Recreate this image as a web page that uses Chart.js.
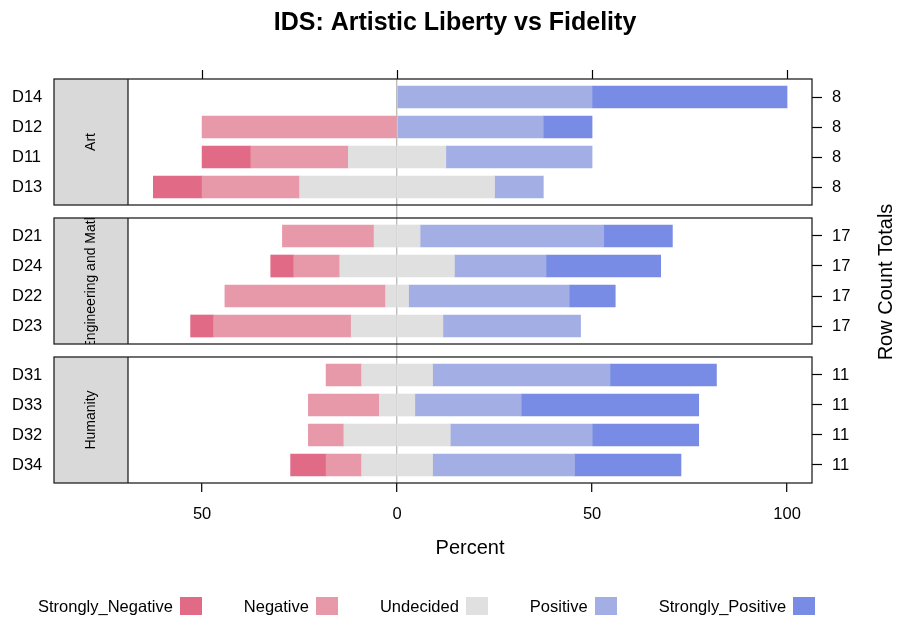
<!DOCTYPE html>
<html>
<head>
<meta charset="utf-8">
<script src="https://cdn.jsdelivr.net/npm/chart.js@4"></script>
<style>
  body { margin: 0; background: #fff; font-family: "Liberation Sans", Arial, sans-serif; }
  #wrap { position: relative; width: 898px; height: 620px; }
  #legend { position: absolute; left: 38px; top: 597px; display: flex; gap: 42px; font-size: 16.5px; color: #000; }
  .item { display: flex; align-items: center; height: 18px; }
  .sw { width: 22px; height: 18px; margin-left: 7px; }
</style>
</head>
<body>
<div id="wrap">
  <canvas id="chart" width="898" height="620"></canvas>
  <div id="legend"></div>
</div>
<script>
// panels (top to bottom) and their row counts
const panels = ["Art", "Engineering and Math", "Humanity"];
const panelTotals = [8, 17, 11];

// rows, top to bottom inside each panel
const rowLabels = ["D14", "D12", "D11", "D13", "D21", "D24", "D22", "D23", "D31", "D33", "D32", "D34"];
const rowPanel = [0, 0, 0, 0, 1, 1, 1, 1, 2, 2, 2, 2];

// percent of answers per row
const stronglyNegative = [0, 0, 12.5, 12.5, 0, 5.9, 0, 5.9, 0, 0, 0, 9.1];
const negative = [0, 50, 25, 25, 23.5, 11.8, 41.2, 35.3, 9.1, 18.2, 9.1, 9.1];
const undecided = [0, 0, 25, 50, 11.8, 29.4, 5.9, 23.5, 18.2, 9.1, 27.3, 18.2];
const positive = [50, 37.5, 37.5, 12.5, 47.1, 23.5, 41.2, 35.3, 45.5, 27.3, 36.4, 36.4];
const stronglyPositive = [50, 12.5, 0, 0, 17.6, 29.4, 11.8, 0, 27.3, 45.5, 27.3, 27.3];

const levels = ["Strongly_Negative", "Negative", "Undecided", "Positive", "Strongly_Positive"];
const colors = ["#E16A86", "#E899A9", "#E0E0E0", "#A2AEE4", "#788CE6"];
const xTicks = [-50, 0, 50, 100];

const FONT = "'Liberation Sans', Arial, sans-serif";
const PANEL = 4.2;   // rows span + 0.6 padding each side
const GAP = 0.433;   // space between panels

// y position of every row
const rowPos = [];
const seen = {};
rowLabels.forEach((_, i) => {
  const p = rowPanel[i];
  seen[p] = (seen[p] || 0);
  rowPos.push(p * (PANEL + GAP) + 0.6 + seen[p]);
  seen[p]++;
});
const yMax = panels.length * PANEL + (panels.length - 1) * GAP;

function pts(vals, sign) {
  return vals.map((v, i) => ({ y: rowPos[i], x: v === 0 ? null : sign * v }));
}

const datasets = [
  { label: "Undecided", data: pts(undecided.map(v => v / 2), -1), backgroundColor: colors[2] },
  { label: "Negative", data: pts(negative, -1), backgroundColor: colors[1] },
  { label: "Strongly_Negative", data: pts(stronglyNegative, -1), backgroundColor: colors[0] },
  { label: "Undecided", data: pts(undecided.map(v => v / 2), 1), backgroundColor: colors[2] },
  { label: "Positive", data: pts(positive, 1), backgroundColor: colors[3] },
  { label: "Strongly_Positive", data: pts(stronglyPositive, 1), backgroundColor: colors[4] }
];

const panelBoxes = {
  id: "panelBoxes",
  afterDraw(chart) {
    const { ctx, chartArea: area, scales } = chart;
    const y = scales.y;
    ctx.save();
    panels.forEach((name, p) => {
      const top = y.getPixelForValue(p * (PANEL + GAP));
      const bot = y.getPixelForValue(p * (PANEL + GAP) + PANEL);
      const stripLeft = 54;
      ctx.fillStyle = "#d9d9d9";
      ctx.fillRect(stripLeft, top, area.left - stripLeft, bot - top);

      ctx.save();
      ctx.beginPath();
      ctx.rect(stripLeft, top, area.left - stripLeft, bot - top);
      ctx.clip();
      ctx.translate((stripLeft + area.left) / 2, (top + bot) / 2);
      ctx.rotate(-Math.PI / 2);
      ctx.fillStyle = "#000";
      ctx.font = "14px " + FONT;
      ctx.textAlign = "center";
      ctx.textBaseline = "middle";
      ctx.fillText(name, 0, 0);
      ctx.restore();

      ctx.strokeStyle = "#222";
      ctx.lineWidth = 1.3;
      ctx.strokeRect(stripLeft, top, area.right - stripLeft, bot - top);
      ctx.beginPath();
      ctx.moveTo(area.left, top);
      ctx.lineTo(area.left, bot);
      ctx.stroke();
    });

    ctx.translate(886, 282);
    ctx.rotate(-Math.PI / 2);
    ctx.fillStyle = "#000";
    ctx.font = "20px " + FONT;
    ctx.textAlign = "center";
    ctx.textBaseline = "middle";
    ctx.fillText("Row Count Totals", 0, 0);
    ctx.restore();
  }
};

Chart.defaults.font.family = FONT;
Chart.defaults.color = "#000";

new Chart(document.getElementById("chart"), {
  type: "bar",
  data: { datasets },
  options: {
    responsive: false,
    animation: false,
    indexAxis: "y",
    devicePixelRatio: 1,
    layout: { padding: { top: 0, bottom: 56, left: 12, right: 0 } },
    datasets: { bar: { barThickness: 22, borderWidth: 0 } },
    plugins: {
      legend: { display: false },
      tooltip: { enabled: false },
      title: {
        display: true,
        text: "IDS: Artistic Liberty vs Fidelity",
        font: { size: 25, weight: "bold" },
        color: "#000",
        padding: { top: 8, bottom: 32 }
      }
    },
    scales: {
      x: {
        type: "linear",
        stacked: true,
        min: -69,
        max: 106.4,
        afterBuildTicks: s => { s.ticks = xTicks.map(v => ({ value: v })); },
        afterFit: s => { s.height = 81; },
        border: { display: false },
        grid: {
          drawOnChartArea: true,
          color: c => (c.tick && c.tick.value === 0 ? "#bdbdbd" : "transparent"),
          lineWidth: 1.4,
          drawTicks: true,
          tickLength: 9,
          tickColor: "#000",
          tickWidth: 1.2
        },
        ticks: { font: { size: 16.5 }, padding: 13, callback: v => String(Math.abs(v)) },
        title: { display: true, text: "Percent", font: { size: 20 }, padding: { top: 4, bottom: 4 } }
      },
      xTop: {
        type: "linear",
        position: "top",
        min: -69,
        max: 106.4,
        afterBuildTicks: s => { s.ticks = xTicks.map(v => ({ value: v })); },
        afterFit: s => { s.height = 9; },
        border: { display: false },
        grid: { drawOnChartArea: false, drawTicks: true, tickLength: 9, tickColor: "#000", tickWidth: 1.2 },
        ticks: { display: false }
      },
      y: {
        type: "linear",
        stacked: true,
        reverse: true,
        offset: false,
        min: 0,
        max: yMax,
        afterBuildTicks: s => { s.ticks = rowPos.map(v => ({ value: v })); },
        afterFit: s => { s.width = 116; },
        border: { display: false },
        grid: { display: false, drawTicks: false, offset: false },
        ticks: { font: { size: 16.5 }, padding: 2, crossAlign: "far", callback: (v, i) => rowLabels[i] }
      },
      yRight: {
        type: "linear",
        position: "right",
        reverse: true,
        offset: false,
        min: 0,
        max: yMax,
        afterBuildTicks: s => { s.ticks = rowPos.map(v => ({ value: v })); },
        afterFit: s => { s.width = 86; },
        border: { display: false },
        grid: { drawOnChartArea: false, drawTicks: true, tickLength: 10, tickColor: "#000", tickWidth: 1.2, offset: false },
        ticks: { font: { size: 16.5 }, padding: 10, callback: (v, i) => String(panelTotals[rowPanel[i]]) }
      }
    }
  },
  plugins: [panelBoxes]
});

// legend: label first, then swatch
const legendEl = document.getElementById("legend");
levels.forEach((name, i) => {
  const item = document.createElement("div");
  item.className = "item";
  item.innerHTML = `<span>${name}</span><span class="sw" style="background:${colors[i]}"></span>`;
  legendEl.appendChild(item);
});
</script>
</body>
</html>
